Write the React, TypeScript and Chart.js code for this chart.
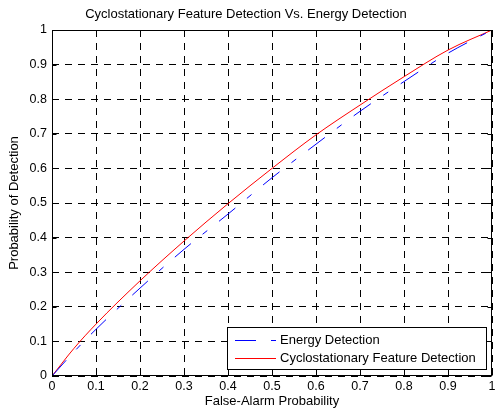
import React, { useEffect, useRef } from 'react';
import { Chart, registerables } from 'chart.js';

Chart.register(...registerables);

// ---- data ----
const falseAlarm = [0, 0.05, 0.1, 0.2, 0.3, 0.4, 0.5, 0.6, 0.7, 0.8, 0.9, 1];
const energyPd = [0, 0.07, 0.135, 0.254, 0.366, 0.468, 0.573, 0.67, 0.765, 0.851, 0.933, 1];
const cycloPd = [0, 0.08, 0.15, 0.275, 0.39, 0.498, 0.6, 0.697, 0.783, 0.865, 0.942, 1];
const tickLabels = ['0', '0.1', '0.2', '0.3', '0.4', '0.5', '0.6', '0.7', '0.8', '0.9', '1'];
const seriesLabels = ['Energy Detection', 'Cyclostationary Feature Detection'];
const chartTitle = 'Cyclostationary Feature Detection Vs. Energy Detection';
const xTitle = 'False-Alarm Probability';
const yTitle = 'Probability of Detection';

const FONT = '"Liberation Sans", Arial, Helvetica, sans-serif';
const ENERGY_DASH = [21, 15, 6, 15];
const GRID_DASH = [7, 6];

const frameAndLegend = {
  id: 'frameAndLegend',
  afterDatasetsDraw(chart: any) {
    const { ctx, chartArea } = chart;
    const { left, right, top, bottom } = chartArea;
    const xs = chart.scales.x;
    const ys = chart.scales.y;
    ctx.save();
    ctx.setLineDash([]);
    ctx.strokeStyle = '#000';
    ctx.lineWidth = 1;
    const L = Math.round(left) + 0.5;
    const R = Math.round(right) - 0.5;
    const T = Math.round(top) + 0.5;
    const B = Math.round(bottom) - 0.5;
    ctx.beginPath();
    xs.ticks.forEach((t: any) => {
      const px = Math.round(xs.getPixelForValue(t.value)) + 0.5;
      ctx.moveTo(px, B);
      ctx.lineTo(px, B - 4);
      ctx.moveTo(px, T);
      ctx.lineTo(px, T + 4);
    });
    ys.ticks.forEach((t: any) => {
      const py = Math.round(ys.getPixelForValue(t.value)) + 0.5;
      ctx.moveTo(L, py);
      ctx.lineTo(L + 4, py);
      ctx.moveTo(R, py);
      ctx.lineTo(R - 4, py);
    });
    ctx.stroke();
    ctx.strokeRect(L, T, R - L, B - T);

    const lx = 227.5, ly = 327.5, lw = 259, lh = 42;
    ctx.fillStyle = '#fff';
    ctx.fillRect(lx, ly, lw, lh);
    ctx.strokeStyle = '#000';
    ctx.strokeRect(lx, ly, lw, lh);
    const ds = chart.data.datasets;
    const rows = [340.5, 358.5];
    ds.forEach((d: any, i: number) => {
      ctx.beginPath();
      ctx.strokeStyle = d.borderColor;
      ctx.lineWidth = 1;
      ctx.setLineDash(d.borderDash || []);
      ctx.moveTo(235, rows[i]);
      ctx.lineTo(276, rows[i]);
      ctx.stroke();
      ctx.setLineDash([]);
      ctx.fillStyle = '#000';
      ctx.font = `13px ${FONT}`;
      ctx.textBaseline = 'middle';
      ctx.textAlign = 'left';
      ctx.fillText(d.label, 280, rows[i]);
    });
    ctx.restore();
  },
};

export default function App() {
  const ref = useRef<HTMLCanvasElement | null>(null);

  useEffect(() => {
    document.body.style.margin = '0';
    const canvas = ref.current;
    if (!canvas) return;
    const chart = new Chart(canvas, {
      type: 'line',
      data: {
        datasets: [
          {
            label: seriesLabels[0],
            data: falseAlarm.map((x, i) => ({ x, y: energyPd[i] })),
            borderColor: '#0000ff',
            borderWidth: 1,
            borderDash: ENERGY_DASH,
            pointRadius: 0,
            cubicInterpolationMode: 'monotone',
            fill: false,
          },
          {
            label: seriesLabels[1],
            data: falseAlarm.map((x, i) => ({ x, y: cycloPd[i] })),
            borderColor: '#ff0000',
            borderWidth: 1,
            pointRadius: 0,
            cubicInterpolationMode: 'monotone',
            fill: false,
          },
        ],
      },
      options: {
        responsive: false,
        animation: false,
        devicePixelRatio: 1,
        layout: { padding: { left: 0, right: 3, top: 0, bottom: 0 } },
        plugins: {
          legend: { display: false },
          tooltip: { enabled: false },
          title: {
            display: true,
            text: chartTitle,
            color: '#000',
            font: { family: FONT, size: 13, weight: 'normal', lineHeight: 1.2 },
            padding: { top: 6.2, bottom: 8.2 },
          },
        },
        scales: {
          x: {
            type: 'linear',
            min: 0,
            max: 1,
            ticks: {
              stepSize: 0.1,
              color: '#000',
              font: { family: FONT, size: 12.5 },
              padding: 3.5,
              maxRotation: 0,
              autoSkip: false,
              callback: (_v: any, i: number) => tickLabels[i],
            },
            grid: { color: '#000', lineWidth: 1, drawTicks: false },
            border: { display: false, dash: GRID_DASH },
            title: {
              display: true,
              text: xTitle,
              color: '#000',
              font: { family: FONT, size: 13, lineHeight: 1.2 },
              padding: { top: 0, bottom: 3 },
            },
            afterFit: (s: any) => {
              s.height = 36;
              s.paddingLeft = 0;
              s.paddingRight = 0;
            },
          },
          y: {
            type: 'linear',
            min: 0,
            max: 1,
            ticks: {
              stepSize: 0.1,
              color: '#000',
              font: { family: FONT, size: 12.5 },
              padding: 5,
              autoSkip: false,
              callback: (_v: any, i: number) => tickLabels[i],
            },
            grid: { color: '#000', lineWidth: 1, drawTicks: false },
            border: { display: false, dash: GRID_DASH },
            title: {
              display: true,
              text: yTitle,
              color: '#000',
              font: { family: FONT, size: 13, lineHeight: 1.2 },
              padding: { top: 6.2, bottom: 0 },
            },
            afterFit: (s: any) => {
              s.width = 52;
              s.paddingTop = 0;
              s.paddingBottom = 0;
            },
          },
        },
      },
      plugins: [frameAndLegend],
    } as any);
    return () => chart.destroy();
  }, []);

  return (
    <div style={{ width: 495, height: 412, background: '#fff' }}>
      <canvas ref={ref} width={495} height={412} style={{ display: 'block' }} />
    </div>
  );
}
